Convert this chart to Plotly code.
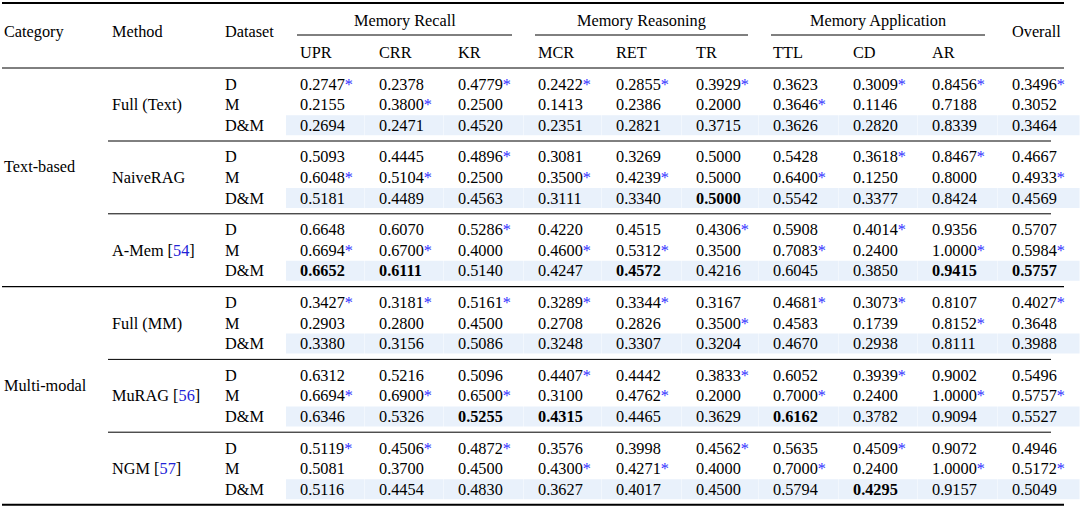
import plotly.graph_objects as go

# column headers
metric_groups = ["Memory Recall", "Memory Reasoning", "Memory Application"]
metrics = ["UPR", "CRR", "KR", "MCR", "RET", "TR", "TTL", "CD", "AR", "Overall"]

# row headers
categories = ["Text-based", "Multi-modal"]
methods = ["Full (Text)", "NaiveRAG", "A-Mem", "Full (MM)", "MuRAG", "NGM"]
method_refs = [None, None, "54", None, "56", "57"]
method_cat = [0, 0, 0, 1, 1, 1]
datasets = ["D", "M", "D&M"]

# scores, one row per dataset (D, M, D&M)
full_text = [
    [0.2747, 0.2378, 0.4779, 0.2422, 0.2855, 0.3929, 0.3623, 0.3009, 0.8456, 0.3496],
    [0.2155, 0.3800, 0.2500, 0.1413, 0.2386, 0.2000, 0.3646, 0.1146, 0.7188, 0.3052],
    [0.2694, 0.2471, 0.4520, 0.2351, 0.2821, 0.3715, 0.3626, 0.2820, 0.8339, 0.3464],
]
naive_rag = [
    [0.5093, 0.4445, 0.4896, 0.3081, 0.3269, 0.5000, 0.5428, 0.3618, 0.8467, 0.4667],
    [0.6048, 0.5104, 0.2500, 0.3500, 0.4239, 0.5000, 0.6400, 0.1250, 0.8000, 0.4933],
    [0.5181, 0.4489, 0.4563, 0.3111, 0.3340, 0.5000, 0.5542, 0.3377, 0.8424, 0.4569],
]
a_mem = [
    [0.6648, 0.6070, 0.5286, 0.4220, 0.4515, 0.4306, 0.5908, 0.4014, 0.9356, 0.5707],
    [0.6694, 0.6700, 0.4000, 0.4600, 0.5312, 0.3500, 0.7083, 0.2400, 1.0000, 0.5984],
    [0.6652, 0.6111, 0.5140, 0.4247, 0.4572, 0.4216, 0.6045, 0.3850, 0.9415, 0.5757],
]
full_mm = [
    [0.3427, 0.3181, 0.5161, 0.3289, 0.3344, 0.3167, 0.4681, 0.3073, 0.8107, 0.4027],
    [0.2903, 0.2800, 0.4500, 0.2708, 0.2826, 0.3500, 0.4583, 0.1739, 0.8152, 0.3648],
    [0.3380, 0.3156, 0.5086, 0.3248, 0.3307, 0.3204, 0.4670, 0.2938, 0.8111, 0.3988],
]
mu_rag = [
    [0.6312, 0.5216, 0.5096, 0.4407, 0.4442, 0.3833, 0.6052, 0.3939, 0.9002, 0.5496],
    [0.6694, 0.6900, 0.6500, 0.3100, 0.4762, 0.2000, 0.7000, 0.2400, 1.0000, 0.5757],
    [0.6346, 0.5326, 0.5255, 0.4315, 0.4465, 0.3629, 0.6162, 0.3782, 0.9094, 0.5527],
]
ngm = [
    [0.5119, 0.4506, 0.4872, 0.3576, 0.3998, 0.4562, 0.5635, 0.4509, 0.9072, 0.4946],
    [0.5081, 0.3700, 0.4500, 0.4300, 0.4271, 0.4000, 0.7000, 0.2400, 1.0000, 0.5172],
    [0.5116, 0.4454, 0.4830, 0.3627, 0.4017, 0.4500, 0.5794, 0.4295, 0.9157, 0.5049],
]
results = [full_text, naive_rag, a_mem, full_mm, mu_rag, ngm]

# layout (pixel coordinates)
W, H = 1082, 517
FONT = "Liberation Serif, Times New Roman, serif"
FS = 16.3
STAR = "#3030ff"
REF = "#2222d6"
SHADE = "#e9f1fb"
col_x = [298, 377, 456, 536, 614, 694, 771, 851, 930, 1010]
group_span = [(297, 512), (535, 748), (771, 985)]
x_cat, x_method, x_data = 2, 110, 223
row0, group_step, row_step = 84, 72.8, 20.6


def row_y(g, r):
    return row0 + g * group_step + r * row_step


def label(x, y, text, anchor="left"):
    return dict(x=x, y=y, xref="x", yref="y", text=text, showarrow=False,
                xanchor=anchor, yanchor="middle",
                font=dict(family=FONT, size=FS, color="black"))


def hline(x0, x1, y, w=1.0):
    return dict(type="line", xref="x", yref="y", x0=x0, x1=x1, y0=y, y1=y,
                line=dict(color="black", width=w))


ann = []
shapes = []

# header
ann.append(label(x_cat, 31, "Category"))
ann.append(label(x_method, 31, "Method"))
ann.append(label(x_data, 31, "Dataset"))
ann.append(label(col_x[-1], 31, metrics[-1]))
for name, (a, b) in zip(metric_groups, group_span):
    ann.append(label((a + b) / 2, 20, name, anchor="center"))
    shapes.append(hline(a, b, 35, 1))
for j, m in enumerate(metrics[:-1]):
    ann.append(label(col_x[j], 52, m))

shapes.append(hline(2, 1064, 3, 2))
shapes.append(hline(2, 1064, 68, 1))

# best D&M score per column
best = [max(res[2][j] for res in results) for j in range(len(metrics))]

bounds = [x - 12 for x in col_x] + [1080]
for g, res in enumerate(results):
    # shaded D&M row
    yd = row_y(g, 2)
    for j in range(len(metrics)):
        shapes.append(dict(type="rect", xref="x", yref="y", layer="below",
                           x0=bounds[j], x1=bounds[j + 1] - 0.4, y0=yd - 10, y1=yd + 10,
                           fillcolor=SHADE, line=dict(width=0)))
    name = methods[g]
    if method_refs[g]:
        name += f" [<span style='color:{REF}'>{method_refs[g]}</span>]"
    ann.append(label(x_method, row_y(g, 1), name))
    for r, ds in enumerate(datasets):
        y = row_y(g, r)
        ann.append(label(x_data, y, ds))
        for j, v in enumerate(res[r]):
            t = f"{v:.4f}"
            if r < 2 and v > res[1 - r][j]:
                t += f"<span style='color:{STAR}'>*</span>"
            if r == 2 and v == best[j]:
                t = f"<b>{t}</b>"
            ann.append(label(col_x[j], y, t))
    if g < len(results) - 1:
        ysep = (row_y(g, 2) + row_y(g + 1, 0)) / 2
        if method_cat[g] != method_cat[g + 1]:
            shapes.append(hline(2, 1064, ysep, 1.2))
        else:
            shapes.append(hline(108, 1051, ysep, 1))

shapes.append(hline(2, 1064, row_y(len(results) - 1, 2) + 15.5, 2))

for c, cat in enumerate(categories):
    gs = [g for g in range(len(methods)) if method_cat[g] == c]
    ann.append(label(x_cat, row_y(gs[1], 0) + 10, cat))

fig = go.Figure()
fig.update_layout(
    width=W, height=H,
    margin=dict(l=0, r=0, t=0, b=0),
    paper_bgcolor="white", plot_bgcolor="white",
    xaxis=dict(range=[0, W], visible=False, fixedrange=True),
    yaxis=dict(range=[H, 0], visible=False, fixedrange=True),
    annotations=ann, shapes=shapes, showlegend=False,
)
fig.write_html("out.html", config={"displayModeBar": False},
               post_script="document.body.style.margin='0';")
